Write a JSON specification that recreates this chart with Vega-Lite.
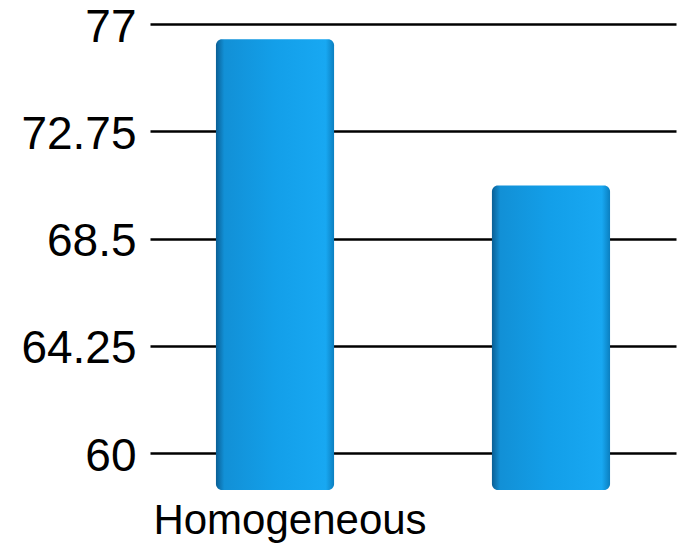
{
  "$schema": "https://vega.github.io/schema/vega-lite/v6.json",
  "width": 526,
  "height": 466,
  "autosize": {"type": "none"},
  "padding": {"left": 150, "top": 24, "right": 7, "bottom": 57},
  "background": "white",
  "config": {
    "view": {"stroke": null},
    "font": "Liberation Sans"
  },
  "data": {
    "values": [
      {"group": "Homogeneous", "score": 76.4},
      {"group": "", "score": 70.6}
    ]
  },
  "mark": {
    "type": "bar",
    "cornerRadius": 6,
    "fill": {
      "gradient": "linear",
      "x1": 0, "y1": 0, "x2": 1, "y2": 0,
      "stops": [
        {"offset": 0, "color": "#0a5f95"},
        {"offset": 0.07, "color": "#1290d6"},
        {"offset": 0.5, "color": "#139fe9"},
        {"offset": 0.93, "color": "#18a8f2"},
        {"offset": 1, "color": "#0b7fc0"}
      ]
    }
  },
  "encoding": {
    "x": {
      "field": "group",
      "type": "nominal",
      "sort": null,
      "scale": {"paddingInner": 0.572, "paddingOuter": 0.239},
      "axis": {
        "title": null,
        "domain": false,
        "ticks": false,
        "labelAngle": 0,
        "labelFontSize": 42,
        "labelLimit": 0,
        "labelOffset": 15,
        "labelColor": "black",
        "labelPadding": 10
      }
    },
    "y": {
      "field": "score",
      "type": "quantitative",
      "scale": {"domain": [58.54, 77], "zero": false, "nice": false},
      "axis": {
        "title": null,
        "values": [60, 64.25, 68.5, 72.75, 77],
        "format": ".2~f",
        "domain": false,
        "ticks": false,
        "labelFontSize": 46,
        "labelOffset": 3,
        "labelColor": "black",
        "labelPadding": 14,
        "gridColor": "black",
        "gridWidth": 2.5,
        "gridOpacity": 1
      }
    },
    "y2": {"datum": 58.54}
  }
}
